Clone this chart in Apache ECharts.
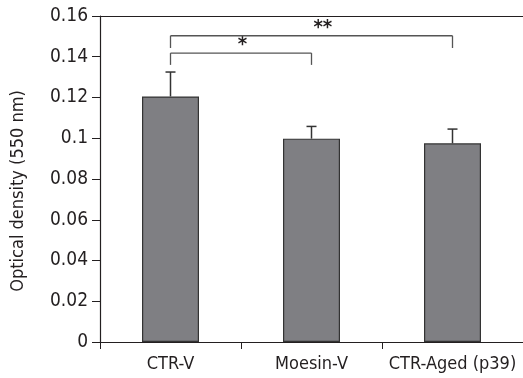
<!DOCTYPE html>
<html>
<head>
<meta charset="utf-8">
<script src="https://cdn.jsdelivr.net/npm/echarts@6/dist/echarts.min.js"></script>
<style>html,body{margin:0;padding:0;background:#fff}#main{width:523px;height:378px}</style>
</head>
<body>
<div id="main"></div>
<script>
// data
var categories = ['CTR-V', 'Moesin-V', 'CTR-Aged (p39)'];
var means = [0.1205, 0.0998, 0.0975];
var errTop = [0.1325, 0.1058, 0.1045];
// significance brackets: [from, to, bracket level, tick bottom, label, label spot along bracket]
var brackets = [
	[0, 1, 0.1418, 0.1360, '*', 0.51],
	[0, 2, 0.1503, 0.1443, '**', 0.54]
];
var yTicks = {min: 0, max: 0.16, step: 0.02};

var font = '"DejaVu Sans Condensed", "Liberation Sans Narrow", "DejaVu Sans", sans-serif';
var ink = '#231f20';

var myChart = echarts.init(document.getElementById('main'));

var errData = [];
for (var i = 0; i < categories.length; i++) {
	errData.push([i, means[i], errTop[i]]);
}

var option = {
	animation: false,
	grid: {left: 100, right: 0, top: 16, bottom: 36},
	xAxis: [{
		type: 'category',
		data: categories,
		axisLine: {lineStyle: {color: ink, width: 1.2}},
		axisTick: {show: true, length: 7, lineStyle: {color: ink}},
		axisLabel: {color: ink, fontFamily: font, fontWeight: 'condensed', fontSize: 18, margin: 13, interval: 0}
	}, {
		// top frame line
		type: 'category',
		position: 'top',
		data: categories,
		axisLine: {lineStyle: {color: ink, width: 1.2}},
		axisTick: {show: false},
		axisLabel: {show: false}
	}],
	yAxis: {
		type: 'value',
		min: yTicks.min,
		max: yTicks.max,
		interval: yTicks.step,
		name: 'Optical density (550 nm)',
		nameLocation: 'middle',
		nameGap: 73,
		nameTextStyle: {color: ink, fontFamily: font, fontWeight: 'condensed', fontSize: 18, padding: [0, 24, 0, 0]},
		axisLine: {show: true, lineStyle: {color: ink, width: 1.2}},
		axisTick: {show: true, length: 8, lineStyle: {color: ink}},
		splitLine: {show: false},
		axisLabel: {
			color: ink, fontFamily: font, fontWeight: 'condensed', fontSize: 19, margin: 12,
			formatter: function (v) { return v === 0 ? '0' : String(+v.toFixed(2)); }
		}
	},
	series: [
		{
			type: 'bar',
			data: means,
			barWidth: 57,
			itemStyle: {color: '#7f7f83', borderColor: '#333', borderWidth: 1.2}
		},
		{
			// error bars (upper only)
			type: 'custom',
			data: errData,
			renderItem: function (params, api) {
				var base = api.coord([api.value(0), api.value(1)]);
				var top = api.coord([api.value(0), api.value(2)]);
				var st = {stroke: '#333', lineWidth: 1.5};
				return {
					type: 'group',
					children: [
						{type: 'line', shape: {x1: base[0], y1: base[1], x2: top[0], y2: top[1]}, style: st},
						{type: 'line', shape: {x1: top[0] - 5, y1: top[1], x2: top[0] + 5, y2: top[1]}, style: st}
					]
				};
			}
		},
		{
			// significance brackets
			type: 'custom',
			data: brackets,
			renderItem: function (params, api) {
				var b = brackets[params.dataIndex];
				var a = api.coord([b[0], b[2]]);
				var c = api.coord([b[1], b[2]]);
				var low = api.coord([b[0], b[3]]);
				var lx = a[0] + (c[0] - a[0]) * b[5];
				var st = {stroke: '#555', lineWidth: 1.3};
				return {
					type: 'group',
					children: [
						{type: 'line', shape: {x1: a[0], y1: low[1], x2: a[0], y2: a[1]}, style: st},
						{type: 'line', shape: {x1: a[0], y1: a[1], x2: c[0], y2: c[1]}, style: st},
						{type: 'line', shape: {x1: c[0], y1: low[1], x2: c[0], y2: c[1]}, style: st},
						{type: 'text', x: lx, y: a[1] + 2, style: {
							text: b[4], fill: ink, font: 'bold 20px ' + font,
							align: 'center', verticalAlign: 'bottom'
						}}
					]
				};
			}
		}
	]
};
myChart.setOption(option);
</script>
</body>
</html>
